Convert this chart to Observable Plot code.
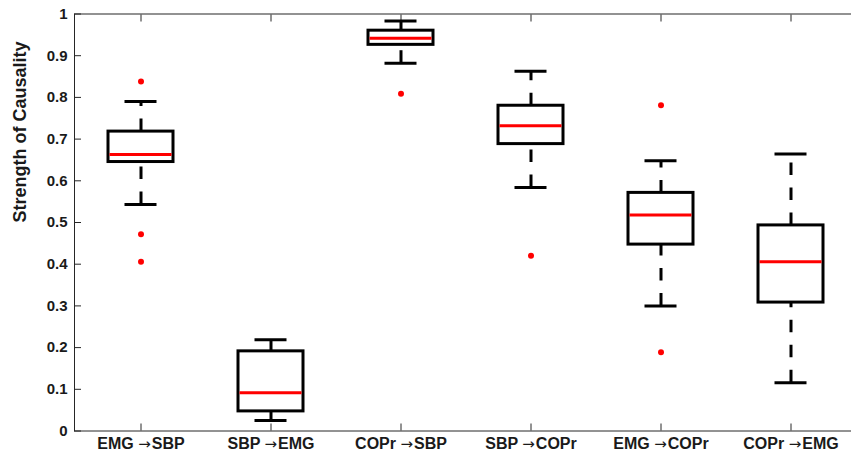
<!DOCTYPE html>
<html>
<head>
<meta charset="utf-8">
<script src="https://cdn.jsdelivr.net/npm/d3@7"></script>
<script src="https://cdn.jsdelivr.net/npm/@observablehq/plot@0.6"></script>
<style>
  html, body { margin: 0; padding: 0; background: #fff; overflow: hidden; }
  #chart { width: 851px; height: 458px; }
</style>
</head>
<body>
<div id="chart"></div>
<script>
const categories = ["EMG \u2192SBP", "SBP \u2192EMG", "COPr \u2192SBP", "SBP \u2192COPr", "EMG \u2192COPr", "COPr \u2192EMG"];
const upperWhisker = [0.790, 0.219, 0.983, 0.863, 0.648, 0.664];
const q3Values     = [0.718, 0.191, 0.960, 0.780, 0.571, 0.493];
const medians      = [0.663, 0.092, 0.942, 0.732, 0.518, 0.406];
const q1Values     = [0.645, 0.047, 0.926, 0.688, 0.447, 0.308];
const lowerWhisker = [0.543, 0.025, 0.882, 0.584, 0.300, 0.116];
const outlierCategory = [0, 0, 0, 2, 3, 4, 4];
const outlierValues   = [0.838, 0.472, 0.406, 0.809, 0.420, 0.781, 0.189];
const yTicks = [0, 0.1, 0.2, 0.3, 0.4, 0.5, 0.6, 0.7, 0.8, 0.9, 1];
const yLabel = "Strength of Causality";

const boxes = categories.map((c, i) => ({
  cat: c, lo: lowerWhisker[i], q1: q1Values[i], med: medians[i], q3: q3Values[i], hi: upperWhisker[i]
}));
const outliers = outlierValues.map((v, i) => ({cat: categories[outlierCategory[i]], v}));

const axisColor = "#262626";
const dash = "12.5,12.5";

const plot = Plot.plot({
  width: 851,
  height: 458,
  marginLeft: 74,
  marginRight: -6,
  marginTop: 13.5,
  marginBottom: 27.5,
  style: {fontFamily: "'Liberation Sans', Arial, sans-serif", fontWeight: "bold", fontSize: "15px", color: "#000", background: "#fff", overflow: "visible"},
  x: {type: "band", domain: categories, range: [74, 857], paddingInner: 0.5, paddingOuter: 0.25, align: 0.5},
  y: {domain: [0, 1], range: [430.5, 13.5]},
  marks: [
    Plot.frame({stroke: axisColor, strokeWidth: 1}),
    // inward ticks
    Plot.axisY({ticks: yTicks, tickSize: -7, fill: "none", stroke: axisColor, label: null}),
    Plot.axisY({anchor: "right", ticks: yTicks, tickSize: -7, fill: "none", stroke: axisColor, label: null}),
    Plot.axisX({tickSize: -7, fill: "none", stroke: axisColor, label: null}),
    Plot.axisX({anchor: "top", tickSize: -7, fill: "none", stroke: axisColor, label: null}),
    // tick labels
    Plot.axisY({ticks: yTicks, tickSize: 0, tickPadding: 7, tickFormat: d => String(+d.toFixed(1)), fill: "#1a1a1a", label: null}),
    Plot.axisX({tickSize: 0, tickPadding: 7, fill: "#1a1a1a", label: null, fontSize: 16, fontFamily: "'Liberation Sans Narrow', 'Liberation Sans', Arial, sans-serif"}),
    Plot.text([yLabel], {frameAnchor: "left", dx: -54, rotate: -90, fontSize: 18, fill: "#1a1a1a"}),
    // whiskers (drawn from lower end upward, like MATLAB)
    Plot.ruleX(boxes, {x: "cat", y1: "q3", y2: "hi", stroke: "#000", strokeWidth: 3, strokeDasharray: dash}),
    Plot.ruleX(boxes, {x: "cat", y1: "lo", y2: "q1", stroke: "#000", strokeWidth: 3, strokeDasharray: dash}),
    // caps
    Plot.tickY(boxes, {x: "cat", y: "hi", stroke: "#000", strokeWidth: 3, insetLeft: 16.5, insetRight: 16.5}),
    Plot.tickY(boxes, {x: "cat", y: "lo", stroke: "#000", strokeWidth: 3, insetLeft: 16.5, insetRight: 16.5}),
    // box
    Plot.barY(boxes, {x: "cat", y1: "q1", y2: "q3", fill: "#fff", stroke: "#000", strokeWidth: 3}),
    // median
    Plot.tickY(boxes, {x: "cat", y: "med", stroke: "#ff0000", strokeWidth: 3, insetLeft: 1.5, insetRight: 1.5}),
    // outliers
    Plot.dot(outliers, {x: "cat", y: "v", r: 3, fill: "#ff0000", stroke: "none"})
  ]
});
document.getElementById("chart").appendChild(plot);

// render the arrow of each x label in a symbol font, as in the original
plot.querySelectorAll("text").forEach(node => {
  const t = node.textContent;
  if (!t.includes("\u2192")) return;
  const [a, b] = t.split("\u2192");
  const ns = "http://www.w3.org/2000/svg";
  while (node.firstChild) node.removeChild(node.firstChild);
  const s1 = document.createElementNS(ns, "tspan"); s1.textContent = a;
  const s2 = document.createElementNS(ns, "tspan"); s2.textContent = "\u2192";
  s2.setAttribute("font-family", "'DejaVu Sans', sans-serif");
  s2.setAttribute("font-weight", "normal");
  s2.setAttribute("font-size", "15");
  const s3 = document.createElementNS(ns, "tspan"); s3.textContent = b;
  s3.setAttribute("dx", "1");
  node.append(s1, s2, s3);
});
</script>
</body>
</html>
